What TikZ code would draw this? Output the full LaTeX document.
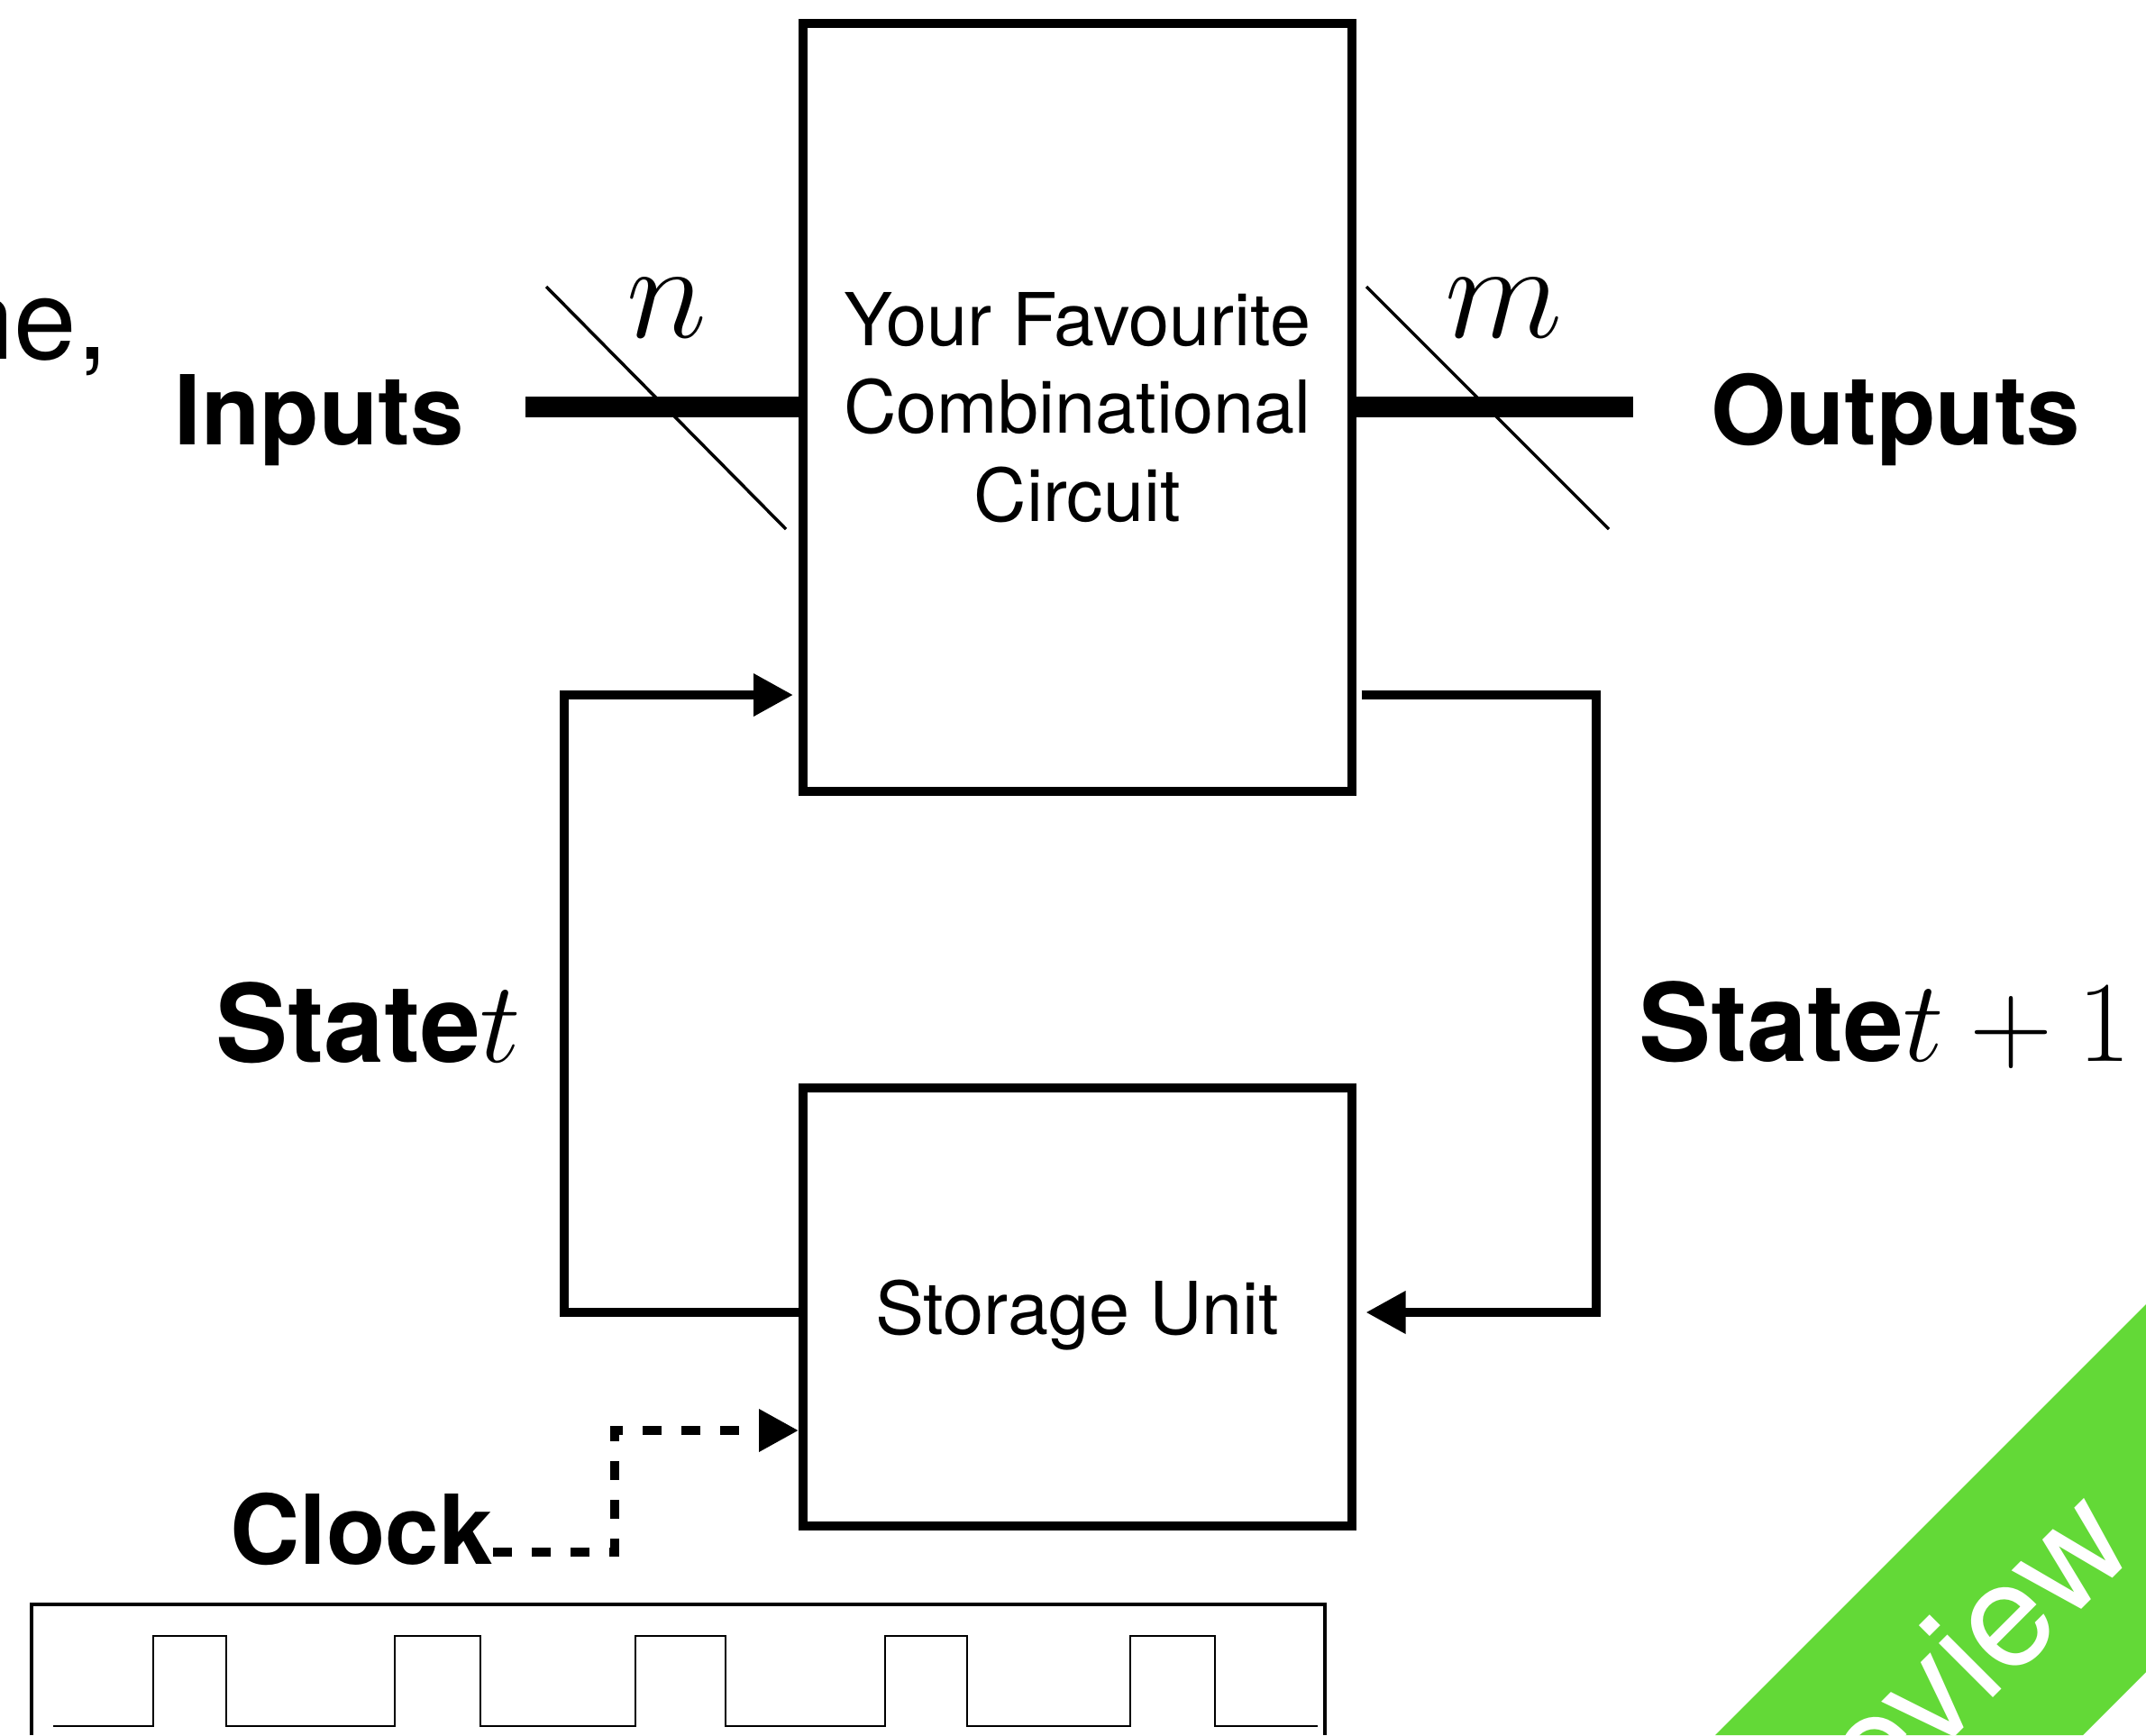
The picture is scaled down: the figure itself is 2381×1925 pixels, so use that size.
\documentclass[tikz,border=0pt]{standalone}
\usepackage{fix-cm}
\usepackage[no-math]{fontspec}
\setmainfont{TeX Gyre Heros}
\usetikzlibrary{arrows.meta,calc,positioning}
\definecolor{bannergreen}{RGB}{99,217,55}
\tikzset {
  >={Triangle[length=44pt,width=45pt]},
  every node/.style={inner sep=0pt},
  block/.style={draw,line width=10pt,minimum width=608.5pt,
    font=\fontsize{81}{97.5}\selectfont},
  wire/.style={line width=10pt},
  bus/.style={line width=23pt},
  slash/.style={line width=3.5pt},
  biglabel/.style={font=\fontsize{107}{128}\selectfont\bfseries},
  statelabel/.style={font=\fontsize{120}{144}\selectfont\bfseries},
  widthlabel/.style={font=\fontsize{152}{180}\selectfont},
}
\newcommand\statemath[1]{{\fontsize{128}{150}\selectfont$#1$}}

\begin{document}
\begin{tikzpicture}[x=1pt,y=-1pt]
          \useasboundingbox (0,0) rectangle (2381,1925);
          % corner banner and cut off text
          \fill[bannergreen] (1903,1925) -- (2381,1447) -- (2381,1855) -- (2311,1925) -- cycle;
          \begin{scope}
            \clip (0,0) rectangle (2381,1925);
            \node[anchor=base east,rotate=45,text=white,
              font=\fontsize{162}{190}\selectfont] (mark) at (2374,1721) {Preview};
            \node[anchor=base west,font=\fontsize{125}{150}\selectfont] (cut) at (-54,398) {ne,};
          \end{scope}
          % the two blocks
          \node[block,minimum height=852pt,align=center] (comb) at (1195.25,452)
            {Your Favourite\\Combinational\\Circuit};
          \node[block,minimum height=486pt,text depth=0pt] (store) at (1195.25,1450) {Storage Unit};
          % inputs and outputs
          \node[biglabel,anchor=base east] (inputs) at (515,493) {Inputs};
          \node[biglabel,anchor=base west] (outputs) at (1898,493) {Outputs};
          \coordinate (inL) at (583,451.5);
          \coordinate (outR) at (1812,451.5);
          \draw[bus] (inL) -- (inL -| comb.west);
          \draw[bus] (comb.east |- outR) -- (outR);
          \draw[slash] (606,318) -- (872,587);
          \draw[slash] (1516,318) -- (1785,587);
          \node[widthlabel] (nlab) at (740,342) {$n$};
          \node[widthlabel] (mlab) at (1669,342) {$m$};
          % state loop
          \node[statelabel,anchor=base west] (statet) at (239,1178) {State\statemath{t}};
          \node[statelabel,anchor=base west] (statenext) at (1818,1177) {State\statemath{t+1}};
          \draw[wire,->,shorten >=6pt] (store.west |- 0,1456) -| (626,771) -- (comb.west |- 0,771);
          \draw[wire,->,shorten <=6pt,shorten >=11pt] (comb.east |- 0,771) -| (1771,1456)
            -- (store.east |- 0,1456);
          % clock
          \node[biglabel,anchor=base west] (clock) at (255,1735) {Clock};
          \draw[wire,dash pattern=on 21pt off 22pt,->] (clock.east |- 0,1722) -| (682,1587)
            -- (store.west |- 0,1587);
          \draw[line width=4.5pt] (35,1925) -- (35,1780) -- (1470,1780) -- (1470,1925);
          \draw[line width=2.5pt] (59,1915)
            \foreach \u/\d in {170/251,438/533,705/805,982/1073,1254/1348}
              { -- (\u,1915) -- (\u,1815) -- (\d,1815) -- (\d,1915) } -- (1462,1915);
        \end{tikzpicture}
\end{document}
